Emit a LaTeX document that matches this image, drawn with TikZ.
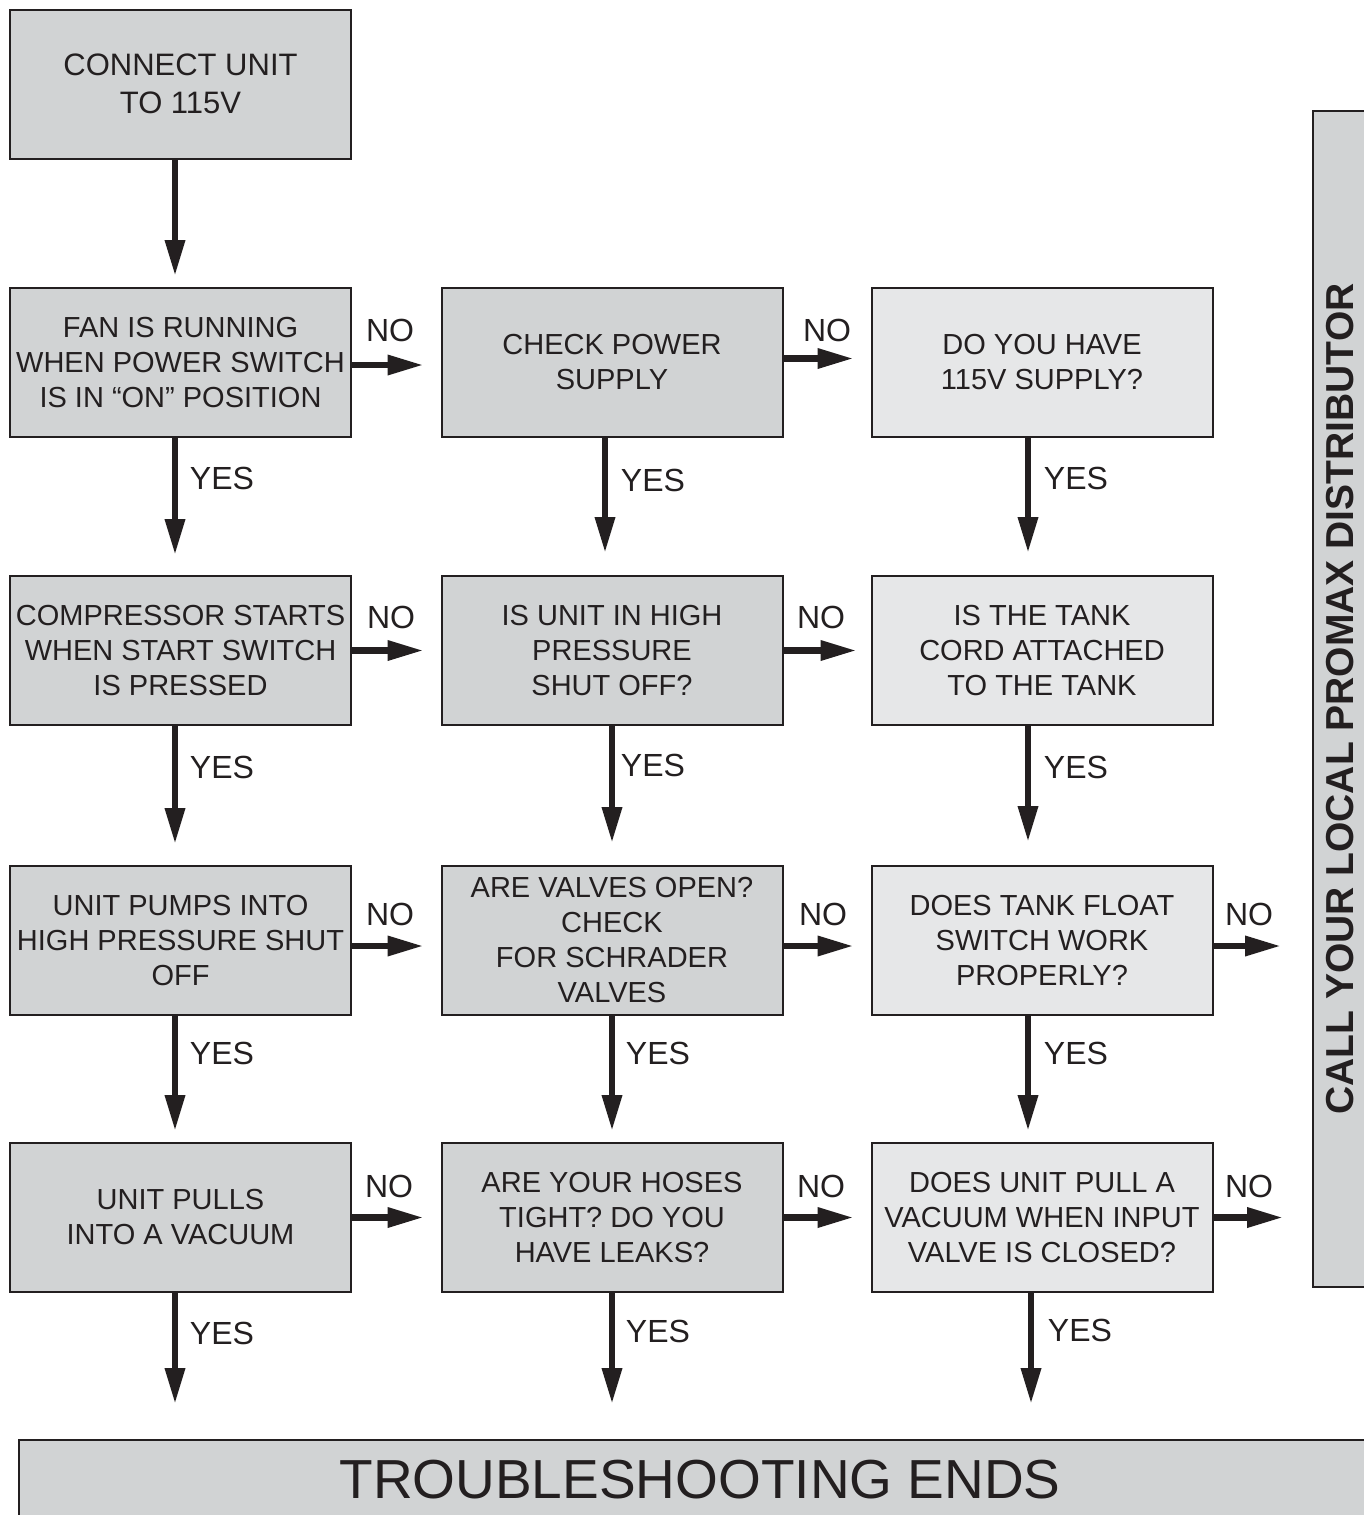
\documentclass[tikz,border=0pt]{standalone}
\usepackage{fontspec}
\setmainfont{Liberation Sans}
\usetikzlibrary{arrows.meta,calc}
\definecolor{midgrey}{HTML}{D1D3D4}
\definecolor{lightgrey}{HTML}{E6E7E8}
\definecolor{ink}{HTML}{231F20}
\begin{document}
\begin{tikzpicture}[x=1pt,y=-1pt,
  box/.style={draw=ink, line width=2pt, minimum width=341pt, minimum height=149pt,
    align=center, inner sep=0pt, text=ink, font=\fontsize{29}{35}\selectfont},
  midbox/.style={box, fill=midgrey},
  lightbox/.style={box, fill=lightgrey},
  arr/.style={draw=ink, line width=6.5pt, -{Triangle[length=36pt,width=19pt]}},
  lbl/.style={text=ink, inner sep=0pt, font=\fontsize{32}{36}\selectfont}]
\clip (0,0) rectangle (1364,1515);
\useasboundingbox (0,0) rectangle (1364,1515);

% boxes
\node[midbox, font=\fontsize{31}{38}\selectfont] (c10) at (180.5,84) {CONNECT UNIT\\TO 115V};
\node[midbox] (c11) at (180.5,362.5) {FAN IS RUNNING\\WHEN POWER SWITCH\\IS IN “ON” POSITION};
\node[midbox] (c21) at (612,362.5) {CHECK POWER\\SUPPLY};
\node[lightbox] (c31) at (1042,362.5) {DO YOU HAVE\\115V SUPPLY?};

\node[midbox] (c12) at (180.5,650.5) {COMPRESSOR STARTS\\WHEN START SWITCH\\IS PRESSED};
\node[midbox] (c22) at (612,650.5) {IS UNIT IN HIGH\\PRESSURE\\SHUT OFF?};
\node[lightbox] (c32) at (1042,650.5) {IS THE TANK\\CORD ATTACHED\\TO THE TANK};

\node[midbox] (c13) at (180.5,940.5) {UNIT PUMPS INTO\\HIGH PRESSURE SHUT\\OFF};
\node[midbox] (c23) at (612,940.5) {ARE VALVES OPEN?\\CHECK\\FOR SCHRADER\\VALVES};
\node[lightbox] (c33) at (1042,940.5) {DOES TANK FLOAT\\SWITCH WORK\\PROPERLY?};

\node[midbox] (c14) at (180.5,1217.5) {UNIT PULLS\\INTO A VACUUM};
\node[midbox] (c24) at (612,1217.5) {ARE YOUR HOSES\\TIGHT? DO YOU\\HAVE LEAKS?};
\node[lightbox] (c34) at (1042,1217.5) {DOES UNIT PULL A\\VACUUM WHEN INPUT\\VALVE IS CLOSED?};

% side bar (rotated: its north anchor is the left edge)
\node[draw=ink, line width=2pt, fill=midgrey, rotate=90, minimum width=1176pt,
  minimum height=54pt, inner sep=0pt, text=ink,
  font=\bfseries\fontsize{39}{44}\selectfont] (side) at (1340,699)
  {CALL YOUR LOCAL PROMAX DISTRIBUTOR};

% end box
\node[draw=ink, line width=2pt, fill=midgrey, minimum width=1362pt, minimum height=80pt,
  inner sep=0pt, text=ink, font=\fontsize{55}{60}\selectfont] (end) at (700,1480)
  {TROUBLESHOOTING ENDS};

% vertical arrows, column 1
\draw[arr, shorten >=11pt] ([xshift=-5.5pt]c10.south) -- ([xshift=-5.5pt]c11.north);
\draw[arr, shorten >=20pt] ([xshift=-5.5pt]c11.south) -- ([xshift=-5.5pt]c12.north);
\draw[arr, shorten >=21pt] ([xshift=-5.5pt]c12.south) -- ([xshift=-5.5pt]c13.north);
\draw[arr, shorten >=11pt] ([xshift=-5.5pt]c13.south) -- ([xshift=-5.5pt]c14.north);
\draw[arr, shorten >=35pt] ([xshift=-5.5pt]c14.south) -- ([xshift=-5.5pt]c14.south |- end.north);
% column 2
\draw[arr, shorten >=22pt] ([xshift=-7pt]c21.south) -- ([xshift=-7pt]c22.north);
\draw[arr, shorten >=22pt] (c22.south) -- (c23.north);
\draw[arr, shorten >=11pt] (c23.south) -- (c24.north);
\draw[arr, shorten >=35pt] (c24.south) -- (c24.south |- end.north);
% column 3
\draw[arr, shorten >=22pt] ([xshift=-14pt]c31.south) -- ([xshift=-14pt]c32.north);
\draw[arr, shorten >=23pt] ([xshift=-14pt]c32.south) -- ([xshift=-14pt]c33.north);
\draw[arr, shorten >=11pt] ([xshift=-14pt]c33.south) -- ([xshift=-14pt]c34.north);
\draw[arr, shorten >=35pt] ([xshift=-11pt]c34.south) -- ([xshift=-11pt]c34.south |- end.north);

% horizontal arrows
\draw[arr, shorten >=17pt] ([yshift=-2.5pt]c11.east) -- ([yshift=-2.5pt]c21.west);
\draw[arr, shorten >=17pt] ([yshift=4pt]c21.east) -- ([yshift=4pt]c31.west);
\draw[arr, shorten >=17pt] (c12.east) -- (c22.west);
\draw[arr, shorten >=14pt] (c22.east) -- (c32.west);
\draw[arr, shorten >=17pt] ([yshift=-5.5pt]c13.east) -- ([yshift=-5.5pt]c23.west);
\draw[arr, shorten >=17pt] ([yshift=-5.5pt]c23.east) -- ([yshift=-5.5pt]c33.west);
\draw[arr, shorten >=31pt] ([yshift=-5.5pt]c33.east) -- ([yshift=-5.5pt]c33.east -| side.north);
\draw[arr, shorten >=17pt] (c14.east) -- (c24.west);
\draw[arr, shorten >=17pt] (c24.east) -- (c34.west);
\draw[arr, shorten >=29pt] (c34.east) -- (c34.east -| side.north);

% NO labels
\node[lbl] (n11) at (390,330) {NO};
\node[lbl] (n21) at (827,330) {NO};
\node[lbl] (n12) at (391,617) {NO};
\node[lbl] (n22) at (821,617) {NO};
\node[lbl] (n13) at (390,914) {NO};
\node[lbl] (n23) at (823,914) {NO};
\node[lbl] (n33) at (1249,914) {NO};
\node[lbl] (n14) at (389,1186) {NO};
\node[lbl] (n24) at (821,1186) {NO};
\node[lbl] (n34) at (1249,1186) {NO};

% YES labels
\node[lbl] (y11) at (222,478) {YES};
\node[lbl] (y21) at (653,480) {YES};
\node[lbl] (y31) at (1076,478) {YES};
\node[lbl] (y12) at (222,767) {YES};
\node[lbl] (y22) at (653,765) {YES};
\node[lbl] (y32) at (1076,767) {YES};
\node[lbl] (y13) at (222,1053) {YES};
\node[lbl] (y23) at (658,1053) {YES};
\node[lbl] (y33) at (1076,1053) {YES};
\node[lbl] (y14) at (222,1333) {YES};
\node[lbl] (y24) at (658,1331) {YES};
\node[lbl] (y34) at (1080,1330) {YES};
\end{tikzpicture}
\end{document}
